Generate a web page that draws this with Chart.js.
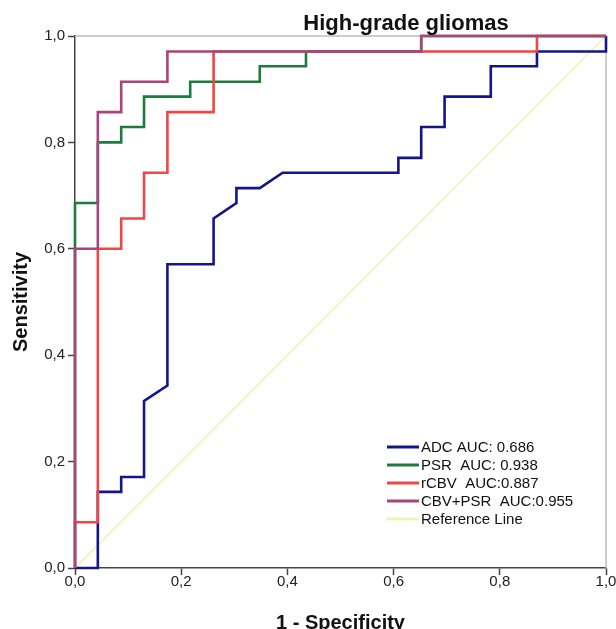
<!DOCTYPE html>
<html>
<head>
<meta charset="utf-8">
<script src="https://cdn.jsdelivr.net/npm/chart.js@4"></script>
<style>
  html, body { margin: 0; padding: 0; background: #ffffff; }
  #wrap { width: 616px; height: 629px; }
</style>
</head>
<body>
<div id="wrap"><canvas id="c" width="616" height="629"></canvas></div>
<script>
const titleText = "High-grade gliomas";
const xAxisTitle = "1 - Specificity";
const yAxisTitle = "Sensitivity";
const tickValues = [0, 0.2, 0.4, 0.6, 0.8, 1.0];

const seriesLabels = ["ADC AUC: 0.686", "PSR  AUC: 0.938", "rCBV  AUC:0.887", "CBV+PSR  AUC:0.955", "Reference Line"];

const adcX = [0, 0.043, 0.043, 0.087, 0.087, 0.130, 0.130, 0.174, 0.174, 0.261, 0.261, 0.304, 0.304, 0.348, 0.391, 0.609, 0.609, 0.652, 0.652, 0.696, 0.696, 0.783, 0.783, 0.870, 0.870, 1.0, 1.0];
const adcY = [0, 0, 0.143, 0.143, 0.171, 0.171, 0.314, 0.343, 0.571, 0.571, 0.657, 0.686, 0.714, 0.714, 0.743, 0.743, 0.771, 0.771, 0.829, 0.829, 0.886, 0.886, 0.943, 0.943, 0.971, 0.971, 1.0];

const psrX = [0, 0, 0.043, 0.043, 0.087, 0.087, 0.130, 0.130, 0.217, 0.217, 0.348, 0.348, 0.435, 0.435, 0.652, 0.652, 1.0];
const psrY = [0, 0.686, 0.686, 0.800, 0.800, 0.829, 0.829, 0.886, 0.886, 0.914, 0.914, 0.943, 0.943, 0.971, 0.971, 1.0, 1.0];

const rcbvX = [0, 0, 0.043, 0.043, 0.087, 0.087, 0.130, 0.130, 0.174, 0.174, 0.261, 0.261, 0.870, 0.870, 1.0];
const rcbvY = [0, 0.086, 0.086, 0.600, 0.600, 0.657, 0.657, 0.743, 0.743, 0.857, 0.857, 0.971, 0.971, 1.0, 1.0];

const comboX = [0, 0, 0.043, 0.043, 0.087, 0.087, 0.174, 0.174, 0.652, 0.652, 1.0];
const comboY = [0, 0.600, 0.600, 0.857, 0.857, 0.914, 0.914, 0.971, 0.971, 1.0, 1.0];

const refX = [0, 1];
const refY = [0, 1];

const colors = ["#14148c", "#1f7a3e", "#f04646", "#a8447e", "#f2f2b4"];

function pts(xs, ys) { return xs.map((x, i) => ({ x: x, y: ys[i] })); }

const fontFam = '"Liberation Sans", Arial, sans-serif';

const frameAndText = {
  id: 'frameAndText',
  beforeDatasetsDraw(chart) {
    const { ctx, chartArea: a } = chart;
    ctx.save();
    ctx.strokeStyle = '#bdbdbd';
    ctx.lineWidth = 1.5;
    ctx.beginPath();
    ctx.moveTo(a.left, a.top);
    ctx.lineTo(a.right, a.top);
    ctx.lineTo(a.right, a.bottom);
    ctx.stroke();
    ctx.restore();
  },
  afterDraw(chart) {
    const { ctx } = chart;
    ctx.save();
    ctx.fillStyle = '#111';
    ctx.font = 'bold 22px ' + fontFam;
    ctx.textAlign = 'center';
    ctx.textBaseline = 'alphabetic';
    ctx.fillText(titleText, 406, 30);

    const ds = chart.data.datasets;
    const x0 = 387, x1 = 419;
    ctx.font = '15px ' + fontFam;
    ctx.textAlign = 'left';
    ctx.textBaseline = 'middle';
    for (let i = 0; i < ds.length; i++) {
      const y = 447 + i * 18;
      ctx.strokeStyle = ds[i].borderColor;
      ctx.lineWidth = 3;
      ctx.beginPath();
      ctx.moveTo(x0, y);
      ctx.lineTo(x1, y);
      ctx.stroke();
      ctx.fillStyle = '#111';
      ctx.fillText(ds[i].label, 421, y + 1);
    }
    ctx.restore();
  }
};

const tickFmt = v => Number(v).toFixed(1).replace('.', ',');

new Chart(document.getElementById('c'), {
  type: 'scatter',
  data: {
    datasets: [
      { label: seriesLabels[0], data: pts(adcX, adcY), borderColor: colors[0], borderWidth: 2.6, order: 3 },
      { label: seriesLabels[1], data: pts(psrX, psrY), borderColor: colors[1], borderWidth: 2.6, order: 2 },
      { label: seriesLabels[2], data: pts(rcbvX, rcbvY), borderColor: colors[2], borderWidth: 2.6, order: 1 },
      { label: seriesLabels[3], data: pts(comboX, comboY), borderColor: colors[3], borderWidth: 2.6, order: 0 },
      { label: seriesLabels[4], data: pts(refX, refY), borderColor: colors[4], borderWidth: 1.5, order: 5 }
    ].map(d => Object.assign(d, { showLine: true, pointRadius: 0, pointHoverRadius: 0, tension: 0, fill: false, clip: 6, backgroundColor: d.borderColor }))
  },
  options: {
    responsive: false,
    animation: false,
    devicePixelRatio: 1,
    layout: { padding: { left: 0, right: 10, top: 36, bottom: 0 } },
    plugins: {
      legend: { display: false },
      title: { display: false },
      tooltip: { enabled: false }
    },
    scales: {
      x: {
        type: 'linear',
        min: 0, max: 1,
        afterFit: s => { s.height = 61; },
        afterBuildTicks: s => { s.ticks = tickValues.map(v => ({ value: v })); },
        ticks: { callback: tickFmt, color: '#222', font: { family: fontFam, size: 15 }, padding: -2, maxRotation: 0, autoSkip: false },
        grid: { drawOnChartArea: false, drawTicks: true, tickLength: 7, tickColor: '#444', tickWidth: 1.5 },
        border: { display: true, color: '#444', width: 1.5 },
        title: { display: true, text: xAxisTitle, color: '#111', font: { family: fontFam, size: 20, weight: 'bold' }, padding: { top: 0, bottom: -6 } }
      },
      y: {
        type: 'linear',
        min: 0, max: 1,
        afterFit: s => { s.width = 75; },
        afterBuildTicks: s => { s.ticks = tickValues.map(v => ({ value: v })); },
        ticks: { callback: tickFmt, color: '#222', font: { family: fontFam, size: 15 }, padding: 3, autoSkip: false },
        grid: { drawOnChartArea: false, drawTicks: true, tickLength: 7, tickColor: '#444', tickWidth: 1.5 },
        border: { display: true, color: '#444', width: 1.5 },
        title: { display: true, text: yAxisTitle, color: '#111', font: { family: fontFam, size: 20, weight: 'bold' }, padding: { top: 9, bottom: 0 } }
      }
    }
  },
  plugins: [frameAndText]
});
</script>
</body>
</html>
